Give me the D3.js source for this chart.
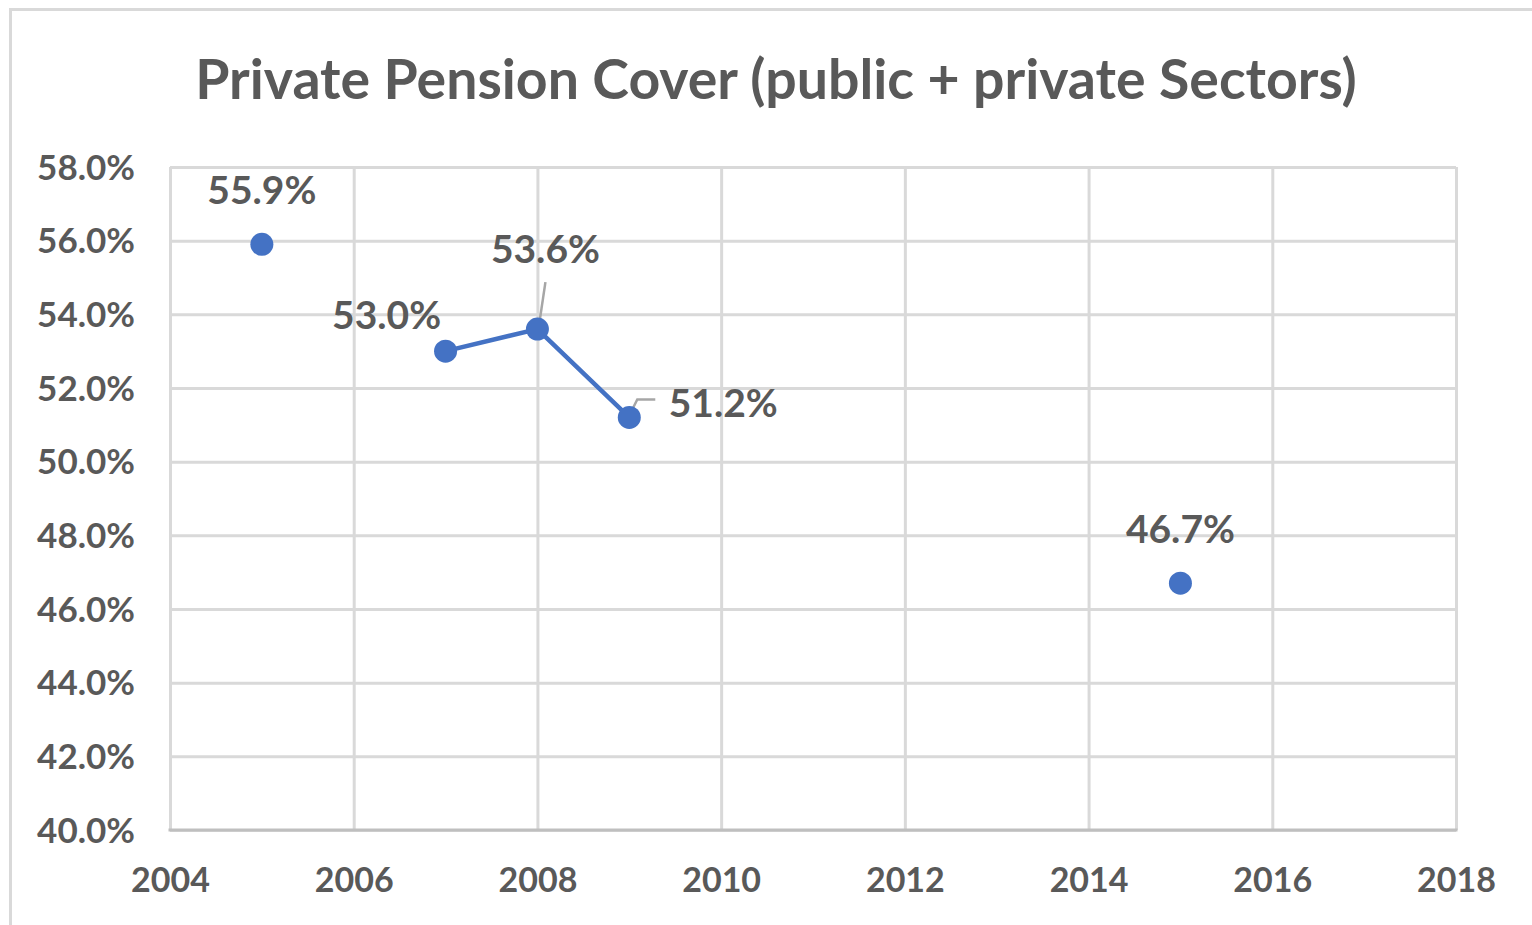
<!DOCTYPE html>
<html><head><meta charset="utf-8">
<script src="https://cdn.jsdelivr.net/npm/d3@7"></script>
<style>
html,body{margin:0;padding:0;background:#fff;}
svg{display:block;}
text{font-family:Lato,"Open Sans",sans-serif;font-weight:bold;fill:#595959;}
</style></head>
<body>
<svg id="chart" width="1532" height="925"></svg>
<script>
const title = "Private Pension Cover (public + private Sectors)";
const years = [2005, 2006, 2007, 2008, 2009, 2010, 2011, 2012, 2013, 2014, 2015];
const values = [55.9, null, 53.0, 53.6, 51.2, null, null, null, null, null, 46.7];
const xTicks = [2004, 2006, 2008, 2010, 2012, 2014, 2016, 2018];
const yTicks = [40, 42, 44, 46, 48, 50, 52, 54, 56, 58];

const svg = d3.select("#chart");
const W = 1532, H = 925;
const plot = {left: 170, right: 1456, top: 167, bottom: 830};
const gridColor = "#d9d9d9";
const blue = "#4472C4";

// outer chart border (cropped at right/bottom)
svg.append("path")
  .attr("d", `M10.5,${H + 5} L10.5,9.5 L${W + 5},9.5`)
  .attr("fill", "none").attr("stroke", gridColor).attr("stroke-width", 3);

const x = d3.scaleLinear().domain([2004, 2018]).range([plot.left, plot.right]);
const y = d3.scaleLinear().domain([40, 58]).range([plot.bottom, plot.top]);

// gridlines + y axis labels
const yAxis = d3.axisLeft(y).tickValues(yTicks).tickSize(-(plot.right - plot.left)).tickFormat(d => d.toFixed(1) + "%").tickPadding(35);
const gy = svg.append("g").attr("transform", `translate(${plot.left},0)`).call(yAxis);
gy.select(".domain").remove();
gy.selectAll(".tick line").attr("stroke", gridColor).attr("stroke-width", 3);
gy.selectAll(".tick text").attr("font-size", 35).attr("fill", "#595959").attr("font-family", "Lato").attr("font-weight", "bold").attr("dy", "0.35em");

const xAxis = d3.axisBottom(x).tickValues(xTicks).tickSize(-(plot.bottom - plot.top)).tickFormat(d3.format("d")).tickPadding(38);
const gx = svg.append("g").attr("transform", `translate(0,${plot.bottom})`).call(xAxis);
gx.select(".domain").remove();
gx.selectAll(".tick line").attr("stroke", gridColor).attr("stroke-width", 3);
gx.selectAll(".tick text").attr("font-size", 34).attr("fill", "#595959").attr("font-family", "Lato").attr("font-weight", "bold");

// bottom axis line
svg.append("line").attr("x1", plot.left - 1.5).attr("x2", plot.right + 1.5)
  .attr("y1", plot.bottom).attr("y2", plot.bottom)
  .attr("stroke", "#bfbfbf").attr("stroke-width", 3);

// title
const t = svg.append("text").attr("x", 776).attr("y", 99).attr("text-anchor", "middle")
  .attr("font-size", 50).text(title);
const tw = t.node().getComputedTextLength();
if (tw > 0) t.attr("font-size", 50 * 1162 / tw);

// data
const data = years.map((yr, i) => ({year: yr, value: values[i]}));
const pts = data.filter(d => d.value !== null);

const line = d3.line().defined(d => d.value !== null).x(d => x(d.year)).y(d => y(d.value));
svg.append("path").datum(data).attr("d", line)
  .attr("fill", "none").attr("stroke", blue).attr("stroke-width", 4.5).attr("stroke-linejoin", "round");

// label offsets (relative to point, in px)
const labelOffsets = {
  2005: {dx: 0, dy: -54},
  2007: {dx: -59, dy: -36},
  2008: {dx: 8, dy: -80},
  2009: {dx: 94, dy: -14},
  2015: {dx: 0, dy: -54}
};

// leader lines
svg.append("path")
  .attr("d", `M${x(2008) + 8},${y(53.6) - 47} L${x(2008) + 1},${y(53.6)}`)
  .attr("fill", "none").attr("stroke", "#a6a6a6").attr("stroke-width", 2.5);
svg.append("path")
  .attr("d", `M${x(2009) + 26},${y(51.2) - 18} L${x(2009) + 8},${y(51.2) - 18} L${x(2009) + 1},${y(51.2) - 4}`)
  .attr("fill", "none").attr("stroke", "#a6a6a6").attr("stroke-width", 2.5);

svg.selectAll("circle.pt").data(pts).enter().append("circle").attr("class", "pt")
  .attr("cx", d => x(d.year)).attr("cy", d => y(d.value)).attr("r", 11.5).attr("fill", blue);

svg.selectAll("text.lbl").data(pts).enter().append("text").attr("class", "lbl")
  .attr("x", d => x(d.year) + labelOffsets[d.year].dx)
  .attr("y", d => y(d.value) + labelOffsets[d.year].dy)
  .attr("dy", "0.35em")
  .attr("text-anchor", "middle")
  .attr("font-size", 39)
  .attr("fill", "#404040")
  .text(d => d.value.toFixed(1) + "%");
</script>
</body></html>
